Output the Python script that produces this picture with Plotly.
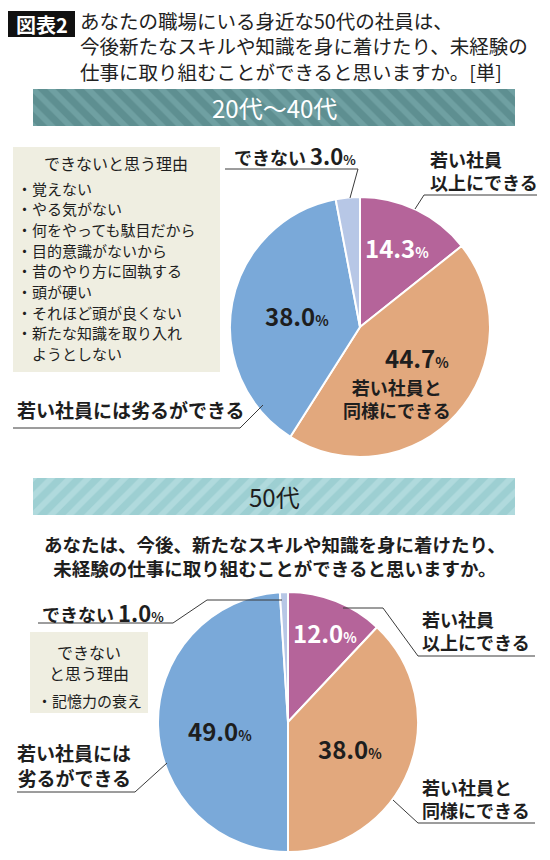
import plotly.graph_objects as go

W, H = 550, 860

# data
categories = ["若い社員以上にできる", "若い社員と同様にできる", "若い社員には劣るができる", "できない"]
share_2040 = [14.3, 44.7, 38.0, 3.0]
share_50 = [12.0, 38.0, 49.0, 1.0]
slice_colors = ["#b5649a", "#e2a87d", "#7aa9d9", "#b7c7e6"]
reasons_2040 = ["・覚えない", "・やる気がない", "・何をやっても駄目だから", "・目的意識がないから",
                "・昔のやり方に固執する", "・頭が硬い", "・それほど頭が良くない",
                "・新たな知識を取り入れ", "　ようとしない"]
reasons_50 = ["・記憶力の衰え"]

FONT = "Noto Sans CJK JP"
DARK = "#1e1e1e"
LINE = "#3a3a3a"


def px(x):
    return x / W


def py(y):
    return 1 - y / H


def pct(v, size=24, small=14):
    return (f"<b><span style='font-size:{size}px'>{v:.1f}</span>"
            f"<span style='font-size:{small}px'>%</span></b>")


fig = go.Figure()


def add_pie(values, cx, cy, r):
    fig.add_trace(go.Pie(
        labels=categories, values=values, sort=False, direction="clockwise",
        rotation=0, textinfo="none", hoverinfo="label+percent",
        marker=dict(colors=slice_colors, line=dict(color="white", width=2)),
        domain=dict(x=[px(cx - r), px(cx + r)], y=[py(cy + r), py(cy - r)]),
        showlegend=False,
    ))

add_pie(share_2040, 360, 327, 130)
add_pie(share_50, 288, 722, 130)


# striped bands
def add_band(idx, y0, y1, base, stripe, shape):
    fig.add_trace(go.Bar(
        x=[1], y=[0], orientation="h", width=1, xaxis=f"x{idx}", yaxis=f"y{idx}",
        marker=dict(color=base, line=dict(width=0),
                    pattern=dict(shape=shape, fgcolor=stripe, bgcolor=base,
                                 size=13, solidity=0.45, fillmode="replace")),
        hoverinfo="skip", showlegend=False,
    ))
    fig.update_layout(**{
        f"xaxis{idx}": dict(domain=[px(33), px(515)], range=[0, 1], visible=False, fixedrange=True),
        f"yaxis{idx}": dict(domain=[py(y1), py(y0)], range=[-0.5, 0.5], visible=False, fixedrange=True),
    })

add_band(2, 89, 126, "#5e8f91", "#6fa0a2", "\\")
add_band(3, 478, 515, "#9dcfd2", "#b0dadd", "/")

shapes = []
ann = []


def text(x, y, s, size=18, color=DARK, anchor="left", bold=False):
    if bold:
        s = f"<b>{s}</b>"
    ann.append(dict(x=px(x), y=py(y), xref="paper", yref="paper", text=s, showarrow=False,
                    xanchor=anchor, yanchor="middle", align=anchor,
                    font=dict(family=FONT, size=size, color=color)))


def path(points):
    d = "M " + " L ".join(f"{px(x)},{py(y)}" for x, y in points)
    shapes.append(dict(type="path", path=d, xref="paper", yref="paper",
                       line=dict(color=LINE, width=1)))


def box(x0, y0, x1, y1):
    shapes.append(dict(type="rect", xref="paper", yref="paper", x0=px(x0), x1=px(x1),
                       y0=py(y1), y1=py(y0), fillcolor="#efeee1", line=dict(width=0), layer="below"))


# header
shapes.append(dict(type="rect", xref="paper", yref="paper", x0=px(8), x1=px(75),
                   y0=py(37), y1=py(11), fillcolor="#111111", line=dict(width=0)))
text(41.5, 24, "図表2", size=20, color="white", anchor="center", bold=True)
title_lines = ["あなたの職場にいる身近な50代の社員は、",
               "今後新たなスキルや知識を身に着けたり、未経験の",
               "仕事に取り組むことができると思いますか。[単]"]
text(78, 46, "<br>".join(title_lines), size=19.5, color="#222222")

# band labels
text(274, 107, "20代〜40代", size=24, color="white", anchor="center")
text(274, 497, "50代", size=24, color=DARK, anchor="center")

# subtitle
text(275, 556, "あなたは、今後、新たなスキルや知識を身に着けたり、<br>"
     "未経験の仕事に取り組むことができると思いますか。", size=18.5, anchor="center", bold=True)

# --- pie 1 labels
text(232, 155, "<b>できない</b> " + pct(share_2040[3], 22, 13), size=18)
path([(225, 169), (358, 169), (350, 198)])
text(428, 170, "若い社員<br>以上にできる", size=18, bold=True)
path([(537, 195), (424, 195), (415, 209)])
text(397, 247, pct(share_2040[0]), color="white", anchor="center")
text(417, 357, pct(share_2040[1]), anchor="center")
text(397, 398, "若い社員と<br>同様にできる", size=18, anchor="center", bold=True)
text(297, 315, pct(share_2040[2]), anchor="center")
text(15, 410, "若い社員には劣るができる", size=19, bold=True)
path([(13, 428), (240, 428), (263, 405)])

box(13, 147, 220, 372)
text(116, 163, "できないと思う理由", size=16, anchor="center")
for i, r in enumerate(reasons_2040):
    text(15, 188 + i * 20.7, r, size=15)

# --- pie 2 labels
text(40, 612, "<b>できない</b> " + pct(share_50[3], 22, 13), size=18)
path([(38, 623), (173, 623), (207, 600), (282, 600)])
box(30, 632, 148, 713)
text(89, 662, "できない<br>と思う理由", size=16, anchor="center")
for i, r in enumerate(reasons_50):
    text(89, 700 + i * 20, r, size=15, anchor="center")
text(220, 730, pct(share_50[2]), anchor="center")
text(133, 765, "若い社員には<br>劣るができる", size=19, anchor="right", bold=True)
path([(17, 792), (135, 792), (167, 763)])
text(325, 632, pct(share_50[0]), color="white", anchor="center")
text(350, 748, pct(share_50[1]), anchor="center")
text(420, 630, "若い社員<br>以上にできる", size=18, bold=True)
path([(535, 656), (418, 656), (383, 608), (343, 608)])
text(420, 798, "若い社員と<br>同様にできる", size=18, bold=True)
path([(535, 823), (418, 823), (393, 800)])

fig.update_layout(
    width=W, height=H, margin=dict(l=0, r=0, t=0, b=0),
    paper_bgcolor="white", plot_bgcolor="white",
    font=dict(family=FONT, color=DARK),
    shapes=shapes, annotations=ann, bargap=0,
)

fig.write_html("out.html", config={"displayModeBar": False},
               post_script="document.body.style.margin='0';")
